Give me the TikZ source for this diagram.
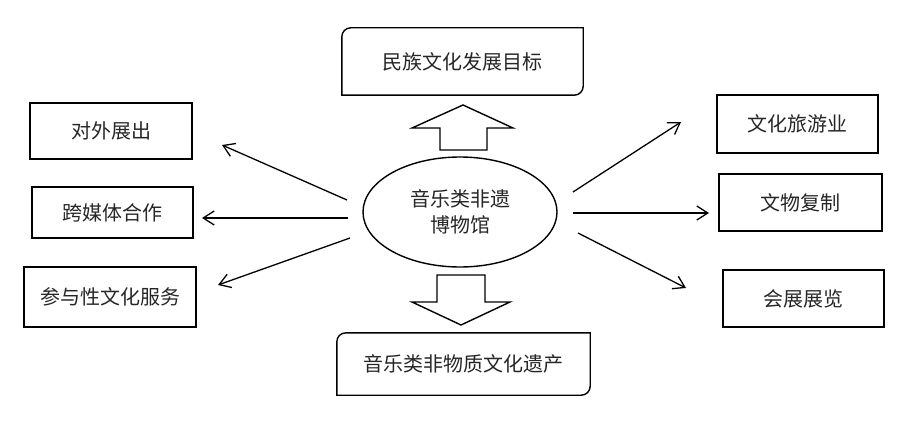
\documentclass[tikz,border=0pt]{standalone}
\usepackage{fontspec}
\setmainfont{Noto Sans CJK SC}
\usetikzlibrary{shapes.geometric,arrows.meta}

\begin{document}
\begin{tikzpicture}[x=1pt, y=1pt, >={Straight Barb[length=11pt, width=14pt]},
    every node/.style={font=\fontsize{20}{26}\selectfont, text=black!85},
    box/.style 2 args={draw, line width=1.4pt, minimum width=#1, minimum height=#2, inner sep=0pt},
    bare box/.style 2 args={minimum width=#1, minimum height=#2, inner sep=0pt},
    link/.style={->, line width=1.3pt},
    fat/.style={draw, line width=1.4pt, fill=white}]
    \useasboundingbox (0,0) rectangle (899,432);
    \node (mus) [ellipse, draw, line width=1.4pt, minimum width=194pt, minimum height=110pt, inner sep=0pt, align=center] at (460,220) {音乐类非遗\\博物馆};
    \node (goal) [bare box={241pt}{67pt}] at (462.5,370.5) {民族文化发展目标};
    \draw [line width=1.4pt] ([yshift=-9pt]goal.north west) arc[start angle=180, end angle=90, radius=9pt] -- (goal.north east) -- ([yshift=9pt]goal.south east) arc[start angle=0, end angle=-90, radius=9pt] -- (goal.south west) -- cycle;
    \node (ich) [bare box={253pt}{62pt}] at (463.5,68) {音乐类非物质文化遗产};
    \draw [line width=1.4pt] ([yshift=-9pt]ich.north west) arc[start angle=180, end angle=90, radius=9pt] -- (ich.north east) -- ([yshift=9pt]ich.south east) arc[start angle=0, end angle=-90, radius=9pt] -- (ich.south west) -- cycle;
    %
    \node (abroad) [box={162pt}{56pt}] at (111,301) {对外展出};
    \node (media) [box={161pt}{51pt}] at (112.5,219.5) {跨媒体合作};
    \node (serve) [box={172pt}{60pt}] at (110,135) {参与性文化服务};
    \node (tour) [box={161pt}{58pt}] at (797.5,308) {文化旅游业};
    \node (copy) [box={163pt}{57pt}] at (800.5,229.5) {文物复制};
    \node (expo) [box={161pt}{57pt}] at (803.5,133.5) {会展展览};
    %
    \draw [fat] (440,282) -- (440,304) -- (412,304) -- (463,327) -- (513,304) -- (487,304) -- (487,282) -- cycle;
    \draw [fat] (437,157) -- (437,130) -- (412,130) -- (461,107) -- (510,130) -- (485,130) -- (485,157) -- cycle;
    %
    \coordinate (m1) at (347,232);
    \coordinate (m2) at (348,214);
    \coordinate (m3) at (350,194);
    \coordinate (m4) at (573,240);
    \coordinate (m5) at (573,219);
    \coordinate (m6) at (578,199);
    \coordinate (t1) at (222,287);
    \coordinate (t2) at (202,214);
    \coordinate (t3) at (218,147);
    \coordinate (t4) at (681,310);
    \coordinate (t5) at (709,219);
    \coordinate (t6) at (686,144);
    \draw [link] (m1) -- (t1);
    \draw [link] (m2) -- (t2);
    \draw [link] (m3) -- (t3);
    \draw [link] (m4) -- (t4);
    \draw [link] (m5) -- (t5);
    \draw [link] (m6) -- (t6);
\end{tikzpicture}
\end{document}
